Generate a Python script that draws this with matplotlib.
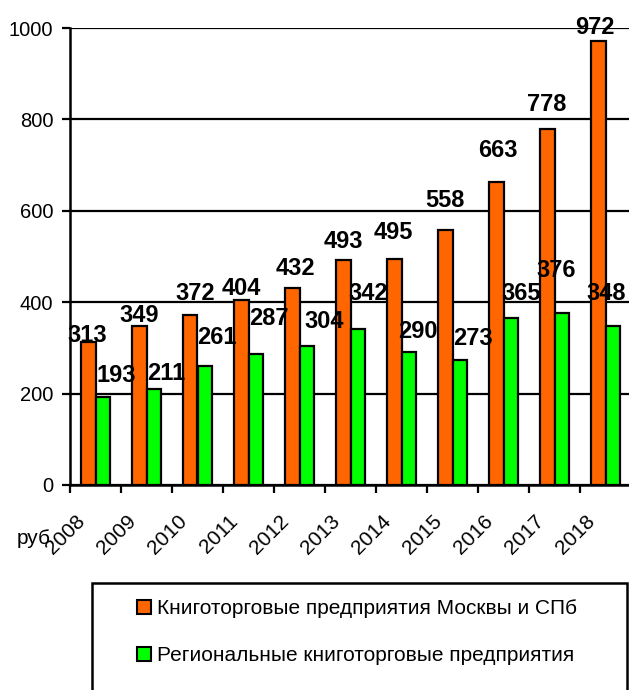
import matplotlib
matplotlib.use("Agg")
import matplotlib.pyplot as plt
from matplotlib.patches import Rectangle, Patch
from matplotlib.transforms import ScaledTranslation
import numpy as np

plt.rcParams['font.family'] = ['Liberation Sans', 'DejaVu Sans']

years = ['2008', '2009', '2010', '2011', '2012', '2013', '2014', '2015', '2016', '2017', '2018']
moscow_spb = [313, 349, 372, 404, 432, 493, 495, 558, 663, 778, 972]
regional = [193, 211, 261, 287, 304, 342, 290, 273, 365, 376, 348]
series_names = ['Книготорговые предприятия Москвы и СПб',
                'Региональные книготорговые предприятия']
unit_label = 'руб'
yticks = [0, 200, 400, 600, 800, 1000]

# label placement (styles): horizontal offset in px, vertical offset in data units
orange_dx = [-1, 0, 5, -0.5, 2.5, 0, -1, -1, 1.5, -0.5, -3.5]
orange_dy = [0, 8, 33, 12, 27, 25, 43, 50, 55, 40, 15]
green_dx = [13.5, 12.5, 12, 13.5, 17.5, 11, 9, 13, 11, -5.5, -6.5]
green_dy = [32, 19, 47, 63, 39, 63, 32, 33, 40, 79, 57]

W, H = 629, 690
DPI = 100
fig = plt.figure(figsize=(W / DPI, H / DPI), dpi=DPI)
ax = fig.add_axes([70 / W, 1 - 485 / H, 561 / W, (485 - 28) / H])

orange = '#FF6600'
green = '#00FF00'
n = len(years)
x = np.arange(n) + 0.5
w = 0.275
ax.bar(x - w / 2, moscow_spb, width=w, color=orange, edgecolor='black', linewidth=1.6, zorder=3)
ax.bar(x + w / 2, regional, width=w, color=green, edgecolor='black', linewidth=1.6, zorder=3)

ax.set_xlim(0, n)
ax.set_ylim(0, 1000)
ax.set_yticks(yticks)
ax.set_yticklabels([str(v) for v in yticks], fontsize=14.5)
ax.yaxis.grid(True, color='black', linewidth=1.6, zorder=1)
ax.set_axisbelow(True)

for s in ['top', 'right']:
    ax.spines[s].set_visible(False)
for s in ['left', 'bottom']:
    ax.spines[s].set_linewidth(1.8)
ax.spines['left'].set_zorder(4)
ax.spines['bottom'].set_zorder(4)

ax.tick_params(axis='y', length=6, width=1.6, pad=6)
# major ticks at category boundaries (no labels), minor at centers with labels
ax.set_xticks(np.arange(n))
ax.set_xticklabels([])
ax.tick_params(axis='x', which='major', length=6, width=1.6)
ax.set_xticks(x, minor=True)
ax.set_xticklabels(years, minor=True, rotation=45, ha='right', va='top', fontsize=15)
ax.tick_params(axis='x', which='minor', length=0, pad=19)
shift = ScaledTranslation(-7 / DPI, 0, fig.dpi_scale_trans)
for lbl in ax.get_xticklabels(minor=True):
    lbl.set_transform(lbl.get_transform() + shift)

for i in range(n):
    t = ax.transData + ScaledTranslation(orange_dx[i] / DPI, 0, fig.dpi_scale_trans)
    ax.text(x[i] - w / 2, moscow_spb[i] + orange_dy[i], str(moscow_spb[i]), transform=t,
            ha='center', va='baseline', fontsize=17, fontweight='bold', zorder=5)
    t = ax.transData + ScaledTranslation(green_dx[i] / DPI, 0, fig.dpi_scale_trans)
    ax.text(x[i] + w / 2, regional[i] + green_dy[i], str(regional[i]), transform=t,
            ha='center', va='baseline', fontsize=17, fontweight='bold', zorder=5)

fig.text(17 / W, 1 - 544 / H, unit_label, fontsize=15, ha='left', va='baseline')

# legend box
fig.patches.append(Rectangle((92 / W, -0.05), (627 - 92) / W, (690 - 583) / H + 0.05,
                             transform=fig.transFigure, facecolor='white',
                             edgecolor='black', linewidth=1.8))
handles = [Patch(facecolor=orange, edgecolor='black', linewidth=1.5),
           Patch(facecolor=green, edgecolor='black', linewidth=1.5)]
fig.legend(handles, series_names, loc='upper left',
           bbox_to_anchor=(137 / W, 1 - 599 / H), frameon=False, fontsize=15,
           handlelength=0.65, handleheight=0.65, handletextpad=0.3,
           labelspacing=1.35, borderpad=0, borderaxespad=0)

fig.savefig('out.png', dpi=DPI)
